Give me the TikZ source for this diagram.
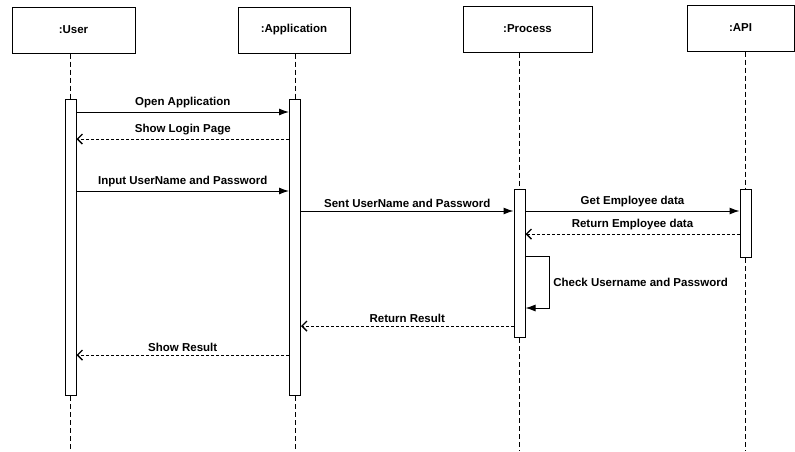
\documentclass[tikz,border=0pt]{standalone}
\usepackage{fontspec}
\setmainfont{Liberation Sans}
\usetikzlibrary{arrows.meta}
\begin{document}
\begin{tikzpicture}[
					x = 1pt, y = -1pt,
					every node/.style = {font = \fontsize{11.5}{13}\selectfont\bfseries},
					head/.style = {draw, line width = 1pt, minimum height = 46pt, inner sep = 0pt},
					bar/.style = {draw, fill = white, line width = 1pt, minimum width = 11pt, inner sep = 0pt, anchor = north},
					life/.style = {dash pattern = on 5pt off 3pt, line width = 0.8pt},
					call/.style = {-{Latex[length = 10pt, width = 7pt]}, line width = 1pt},
					reply/.style = {-{Straight Barb[length = 5pt, width = 10pt, line width = 1.4pt]}, dash pattern = on 3pt off 2pt, line width = 1pt}]

					\useasboundingbox (0,0) rectangle (795,451);

					\node[head, minimum width = 123pt] (user) at (73.5,30) {:User};
					\node[head, minimum width = 112pt] (app) at (294,30) {:Application};
					\node[head, minimum width = 129pt] (proc) at (527.5,29) {:Process};
					\node[head, minimum width = 107pt] (api) at (740.5,28) {:API};

					\node[bar, minimum height = 296pt] (userbar) at (70.5,99) {};
					\node[bar, minimum height = 296pt] (appbar) at (295,99) {};
					\node[bar, minimum height = 148pt] (procbar) at (519.5,189) {};
					\node[bar, minimum height = 68pt] (apibar) at (745.5,189) {};

					\draw[life] (userbar |- user.south) -- (userbar.north);
					\draw[life] (userbar.south) -- (userbar |- 0,451);
					\draw[life] (appbar |- app.south) -- (appbar.north);
					\draw[life] (appbar.south) -- (appbar |- 0,451);
					\draw[life] (procbar |- proc.south) -- (procbar.north);
					\draw[life] (procbar.south) -- (procbar |- 0,451);
					\draw[life] (apibar |- api.south) -- (apibar.north);
					\draw[life] (apibar.south) -- (apibar |- 0,451);

					\draw[call] (userbar.east |- 0,112) -- node[above]{Open Application} (appbar.west |- 0,112);
					\draw[reply] (appbar.west |- 0,139) -- node[above]{Show Login Page} (userbar.east |- 0,139);
					\draw[call] (userbar.east |- 0,191) -- node[above]{Input UserName and Password} (appbar.west |- 0,191);
					\draw[call] (appbar.east |- 0,211) -- node[above]{Sent UserName and Password} (procbar.west |- 0,211);
					\draw[call] (procbar.east |- 0,211) -- node[above]{Get Employee data} (apibar.west |- 0,211);
					\draw[reply] (apibar.west |- 0,234) -- node[above]{Return Employee data} (procbar.east |- 0,234);
					\draw[call] (procbar.east |- 0,256) -- ++(24,0) -- node[right]{Check Username and Password} ++(0,52) -- (procbar.east |- 0,308);
					\draw[reply] (procbar.west |- 0,326) -- node[above]{Return Result} (appbar.east |- 0,326);
					\draw[reply] (appbar.west |- 0,355) -- node[above]{Show Result} (userbar.east |- 0,355);

				\end{tikzpicture}
\end{document}
